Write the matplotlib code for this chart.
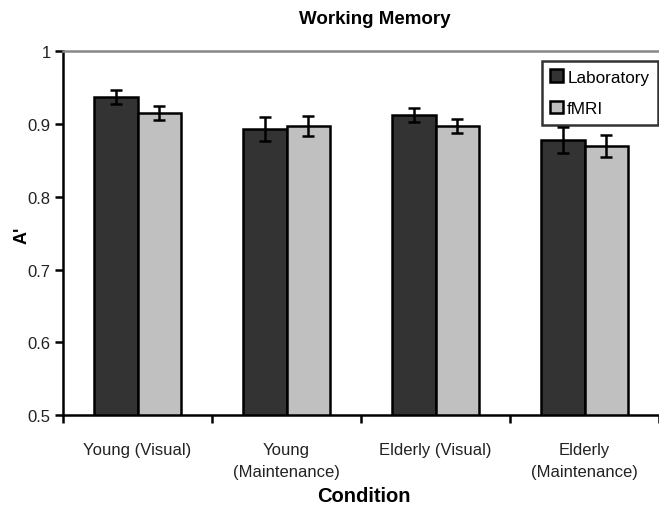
import matplotlib
matplotlib.use('Agg')
import matplotlib.pyplot as plt
import numpy as np

plt.rcParams['font.family'] = ['Liberation Sans', 'DejaVu Sans']

conditions = ['Young (Visual)', 'Young\n(Maintenance)', 'Elderly (Visual)', 'Elderly\n(Maintenance)']
lab = [0.937, 0.893, 0.912, 0.878]
lab_err = [0.010, 0.016, 0.010, 0.018]
fmri = [0.915, 0.897, 0.897, 0.870]
fmri_err = [0.010, 0.014, 0.010, 0.015]

fig = plt.figure(figsize=(6.59, 5.10), dpi=100)
ax = fig.add_axes([0.0956, 0.184, 0.9044, 0.714])

x = np.arange(len(conditions))
w = 0.29
errkw = dict(elinewidth=1.8, capsize=4, capthick=1.8, ecolor='black')
ax.bar(x - w / 2, lab, w, yerr=lab_err, color='#333333', edgecolor='black',
       linewidth=1.8, label='Laboratory', error_kw=errkw, zorder=2)
ax.bar(x + w / 2, fmri, w, yerr=fmri_err, color='#c0c0c0', edgecolor='black',
       linewidth=1.8, label='fMRI', error_kw=errkw, zorder=2)

ax.set_ylim(0.5, 1.0)
ax.set_xlim(-0.5, 3.5)
ax.set_yticks([0.5, 0.6, 0.7, 0.8, 0.9, 1.0])
ax.set_yticklabels(['0.5', '0.6', '0.7', '0.8', '0.9', '1'])
ax.set_xticks(x)
ax.set_xticklabels(conditions, fontsize=12, color='#222222', linespacing=1.6)
ax.set_xticks(np.arange(len(conditions) + 1) - 0.5, minor=True)
ax.tick_params(axis='x', which='major', length=0, pad=19)
ax.tick_params(axis='x', which='minor', length=6, width=1.8, direction='out')
ax.tick_params(axis='y', length=6, width=1.8, labelsize=12, labelcolor='#222222', pad=3)

ax.spines['right'].set_visible(False)
ax.spines['top'].set_color('#888888')
ax.spines['top'].set_linewidth(1.8)
ax.spines['left'].set_linewidth(1.8)
ax.spines['bottom'].set_linewidth(1.8)

fig.text(22 / 659, 1 - 235 / 510, "A'", rotation=90, ha='center', va='center',
         fontsize=13, fontweight='bold')
fig.text(364 / 659, 1 - 497 / 510, 'Condition', ha='center', va='center',
         fontsize=14.5, fontweight='bold')
fig.text(0.568, 0.962, 'Working Memory', ha='center', va='center',
         fontsize=13.5, fontweight='bold')

leg = ax.legend(loc='upper right', bbox_to_anchor=(0.998, 0.973), frameon=True,
                fancybox=False, edgecolor='black', fontsize=12.3,
                handlelength=0.75, handleheight=0.75, handletextpad=0.25,
                borderpad=0.5, labelspacing=0.95, borderaxespad=0)
leg.get_frame().set_linewidth(1.8)
for h in leg.legend_handles:
    h.set_linewidth(1.8)

fig.savefig('out.png', dpi=100)
